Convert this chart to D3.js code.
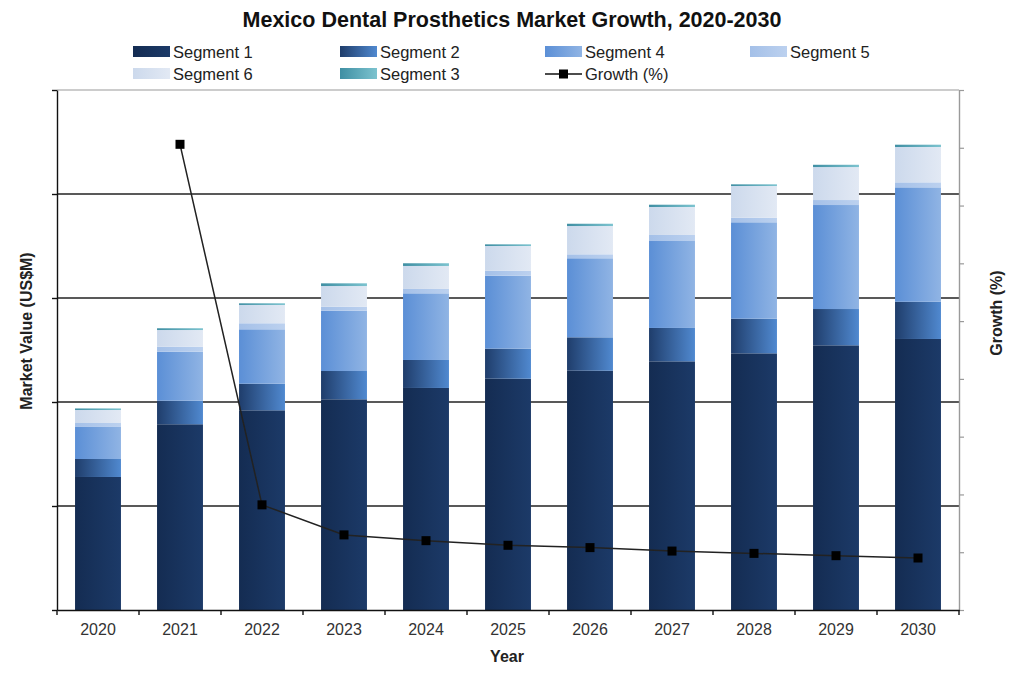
<!DOCTYPE html>
<html>
<head>
<meta charset="utf-8">
<script src="https://cdn.jsdelivr.net/npm/d3@7"></script>
<style>
  body { margin: 0; background: #fff; }
  svg text { font-family: "Liberation Sans", Arial, sans-serif; }
</style>
</head>
<body>
<div id="chart"></div>
<script>
// datos (US$M aprox, escala sin etiquetas)
const years = ['2020','2021','2022','2023','2024','2025','2026','2027','2028','2029','2030'];
const segment1 = [127.9, 178.6, 192.0, 202.6, 213.5, 222.4, 230.1, 239.1, 246.8, 254.5, 260.6];
const segment2 = [17.3, 22.7, 25.6, 27.2, 26.9, 28.9, 32.1, 32.1, 33.3, 34.9, 35.8];
const segment4 = [30.8, 47.1, 52.3, 58.0, 64.1, 70.1, 76.0, 83.6, 92.7, 100.0, 110.0];
const segment5 = [3.8, 4.8, 5.8, 3.8, 4.2, 4.9, 3.8, 5.8, 4.4, 4.8, 4.8];
const segment6 = [12.5, 16.0, 17.6, 19.9, 22.1, 23.7, 27.2, 26.9, 30.5, 31.7, 34.0];
const segment3 = [1.5, 1.7, 1.6, 2.6, 2.6, 1.6, 2.2, 2.2, 1.6, 2.2, 2.2];
const growth = [null, 40.3, 9.1, 6.5, 6.0, 5.6, 5.4, 5.1, 4.9, 4.7, 4.5];

const stackOrder = ['Segment 1','Segment 2','Segment 4','Segment 5','Segment 6','Segment 3'];
const legendOrder = ['Segment 1','Segment 2','Segment 4','Segment 5','Segment 6','Segment 3'];
const seriesValues = {
  'Segment 1': segment1, 'Segment 2': segment2, 'Segment 4': segment4,
  'Segment 5': segment5, 'Segment 6': segment6, 'Segment 3': segment3
};
// colores: [izquierda, derecha] del degradado
const colors = {
  'Segment 1': ['#142c52', '#1c3a68'],
  'Segment 2': ['#1f3d6b', '#5089d0'],
  'Segment 4': ['#5b8fd6', '#90b4e4'],
  'Segment 5': ['#a4c0e8', '#bcd1ef'],
  'Segment 6': ['#ccd9ec', '#e2e9f4'],
  'Segment 3': ['#3f8fa3', '#7cc3cf']
};

const W = 1024, H = 678;
const margin = { top: 90, right: 65, bottom: 68, left: 57 };
const width = W - margin.left - margin.right;
const height = H - margin.top - margin.bottom;

const svgRoot = d3.select('#chart').append('svg')
    .attr('width', W)
    .attr('height', H);

const defs = svgRoot.append('defs');
stackOrder.forEach((k, i) => {
  const g = defs.append('linearGradient')
      .attr('id', 'grad' + i)
      .attr('x1', '0%').attr('x2', '100%').attr('y1', '0%').attr('y2', '0%');
  g.append('stop').attr('offset', '0%').attr('stop-color', colors[k][0]);
  g.append('stop').attr('offset', '100%').attr('stop-color', colors[k][1]);
});

const svg = svgRoot.append('g')
    .attr('transform', `translate(${margin.left},${margin.top})`);

const table = years.map((y, i) => {
  const row = { year: y };
  stackOrder.forEach(k => row[k] = seriesValues[k][i]);
  return row;
});

const x = d3.scaleBand()
    .domain(years)
    .range([0, width])
    .paddingInner(0.44)
    .paddingOuter(0.22);

const y = d3.scaleLinear()
    .domain([0, 500])
    .range([height, 0]);

const y2 = d3.scaleLinear()
    .domain([0, 45])
    .range([height, 0]);

// lineas de cuadricula
svg.append('g')
    .selectAll('line')
    .data([100, 200, 300, 400])
    .enter().append('line')
    .attr('x1', 0).attr('x2', width)
    .attr('y1', d => y(d)).attr('y2', d => y(d))
    .attr('stroke', '#222')
    .attr('stroke-width', 1.6);

// borde superior
svg.append('line')
    .attr('x1', 0).attr('x2', width)
    .attr('y1', 0).attr('y2', 0)
    .attr('stroke', '#9a9a9a')
    .attr('stroke-width', 1.2);

// barras apiladas
const stacked = d3.stack().keys(stackOrder)(table);

svg.append('g')
  .selectAll('g')
  .data(stacked)
  .enter().append('g')
    .attr('fill', (d, i) => `url(#grad${i})`)
  .selectAll('rect')
  .data(d => d)
  .enter().append('rect')
    .attr('x', d => x(d.data.year))
    .attr('width', x.bandwidth())
    .attr('y', d => y(d[1]))
    .attr('height', d => y(d[0]) - y(d[1]));

// eje izquierdo
svg.append('g')
    .call(d3.axisLeft(y).tickValues([0, 100, 200, 300, 400, 500]).tickFormat('').tickSize(5).tickSizeOuter(0))
    .call(g => g.select('.domain').attr('stroke', '#111').attr('stroke-width', 1.4))
    .call(g => g.selectAll('.tick line').attr('stroke', '#111').attr('stroke-width', 1.4));

// eje derecho
svg.append('g')
    .attr('transform', `translate(${width},0)`)
    .call(d3.axisRight(y2).ticks(9).tickFormat('').tickSize(5).tickSizeOuter(0))
    .call(g => g.select('.domain').attr('stroke', '#9a9a9a').attr('stroke-width', 1.4))
    .call(g => g.selectAll('.tick line').attr('stroke', '#9a9a9a').attr('stroke-width', 1.2));

// eje inferior
const xAxis = svg.append('g')
    .attr('transform', `translate(0,${height})`)
    .call(d3.axisBottom(x).tickSize(0).tickPadding(14).tickSizeOuter(0));
xAxis.select('.domain').attr('stroke', '#111').attr('stroke-width', 1.6);
xAxis.selectAll('.tick text')
    .attr('font-size', 16)
    .attr('fill', '#333');
xAxis.selectAll('line.sep')
    .data(d3.range(years.length + 1))
    .enter().append('line')
    .attr('class', 'sep')
    .attr('x1', i => i * x.step()).attr('x2', i => i * x.step())
    .attr('y1', 0).attr('y2', 5)
    .attr('stroke', '#111')
    .attr('stroke-width', 1.4);

// linea de crecimiento
const growthPts = years.map((yr, i) => ({ year: yr, v: growth[i] })).filter(d => d.v !== null);
svg.append('path')
    .datum(growthPts)
    .attr('fill', 'none')
    .attr('stroke', '#222')
    .attr('stroke-width', 1.5)
    .attr('d', d3.line().x(d => x(d.year) + x.bandwidth() / 2).y(d => y2(d.v)));

svg.selectAll('rect.marker')
    .data(growthPts)
    .enter().append('rect')
    .attr('class', 'marker')
    .attr('x', d => x(d.year) + x.bandwidth() / 2 - 4.5)
    .attr('y', d => y2(d.v) - 4.5)
    .attr('width', 9).attr('height', 9)
    .attr('fill', '#000');

// titulos
svgRoot.append('text')
    .attr('x', 512).attr('y', 27)
    .attr('text-anchor', 'middle')
    .attr('font-size', 21.5)
    .attr('font-weight', 'bold')
    .attr('fill', '#111')
    .text('Mexico Dental Prosthetics Market Growth, 2020-2030');

svgRoot.append('text')
    .attr('transform', 'translate(32,331) rotate(-90)')
    .attr('text-anchor', 'middle')
    .attr('font-size', 16)
    .attr('font-weight', 'bold')
    .attr('fill', '#222')
    .text('Market Value (US$M)');

svgRoot.append('text')
    .attr('transform', 'translate(1002,313) rotate(-90)')
    .attr('text-anchor', 'middle')
    .attr('font-size', 16)
    .attr('font-weight', 'bold')
    .attr('fill', '#222')
    .text('Growth (%)');

svgRoot.append('text')
    .attr('x', 507).attr('y', 662)
    .attr('text-anchor', 'middle')
    .attr('font-size', 16)
    .attr('font-weight', 'bold')
    .attr('fill', '#222')
    .text('Year');

// leyenda
const legendCols = [133, 340, 545, 750];
const legendItems = legendOrder.map(k => ({ name: k, type: 'bar' })).concat([{ name: 'Growth (%)', type: 'line' }]);
const legend = svgRoot.append('g');
legendItems.forEach((item, i) => {
  const lx = legendCols[i % 4];
  const ly = i < 4 ? 52 : 74;
  const g = legend.append('g').attr('transform', `translate(${lx},${ly})`);
  if (item.type === 'bar') {
    const gi = stackOrder.indexOf(item.name);
    g.append('rect')
        .attr('x', 0).attr('y', -6)
        .attr('width', 37).attr('height', 11)
        .attr('fill', `url(#grad${gi})`);
  } else {
    g.append('line')
        .attr('x1', 0).attr('x2', 37).attr('y1', 0).attr('y2', 0)
        .attr('stroke', '#111').attr('stroke-width', 1.5);
    g.append('rect')
        .attr('x', 14).attr('y', -4.5).attr('width', 9).attr('height', 9)
        .attr('fill', '#000');
  }
  g.append('text')
      .attr('x', 40).attr('y', 6)
      .attr('font-size', 16.5)
      .attr('fill', '#222')
      .text(item.name);
});
</script>
</body>
</html>
